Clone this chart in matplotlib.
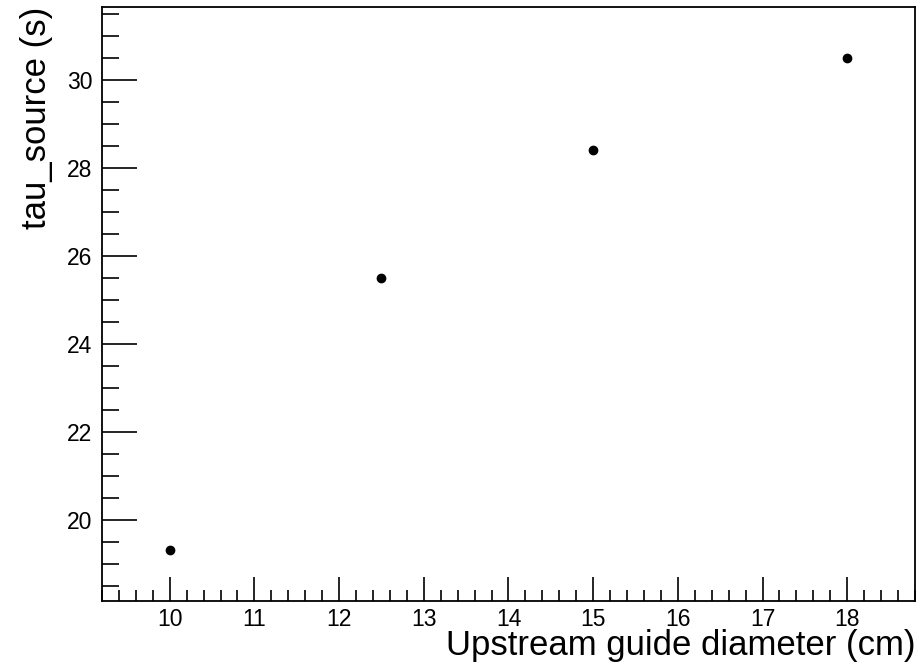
import numpy as np
import matplotlib.pyplot as plt
from matplotlib.ticker import MultipleLocator

# data
diameter = [10.0, 12.5, 15.0, 18.0]
tau_source = [19.32, 25.50, 28.39, 30.48]

plt.rcParams['font.family'] = ['Liberation Sans', 'DejaVu Sans']

fig = plt.figure(figsize=(9.22, 6.65), dpi=100)
ax = fig.add_axes([0.1106, 0.0962, 0.8818, 0.8933])

ax.plot(diameter, tau_source, 'o', color='black', markersize=6)

ax.set_xlim(9.2, 18.8)
ax.set_ylim(18.15, 31.65)

ax.xaxis.set_major_locator(MultipleLocator(1))
ax.xaxis.set_minor_locator(MultipleLocator(0.2))
ax.yaxis.set_major_locator(MultipleLocator(2))
ax.yaxis.set_minor_locator(MultipleLocator(0.5))

ax.tick_params(axis='both', which='both', direction='in', top=False, right=False,
               labelsize=16.5, width=1.2, color='black')
ax.tick_params(axis='x', which='major', length=17, pad=5)
ax.tick_params(axis='x', which='minor', length=8)
ax.tick_params(axis='y', which='major', length=25, pad=7)
ax.tick_params(axis='y', which='minor', length=12)

for s in ax.spines.values():
    s.set_linewidth(1.3)

# axis titles placed like ROOT does: x at right end, y at top
fig.text(915 / 922, 1 - 655 / 665, 'Upstream guide diameter (cm)', fontsize=25,
         ha='right', va='baseline')
ax.set_ylabel('tau_source (s)', fontsize=25, loc='top', labelpad=10)

fig.savefig('out.png', dpi=100)
